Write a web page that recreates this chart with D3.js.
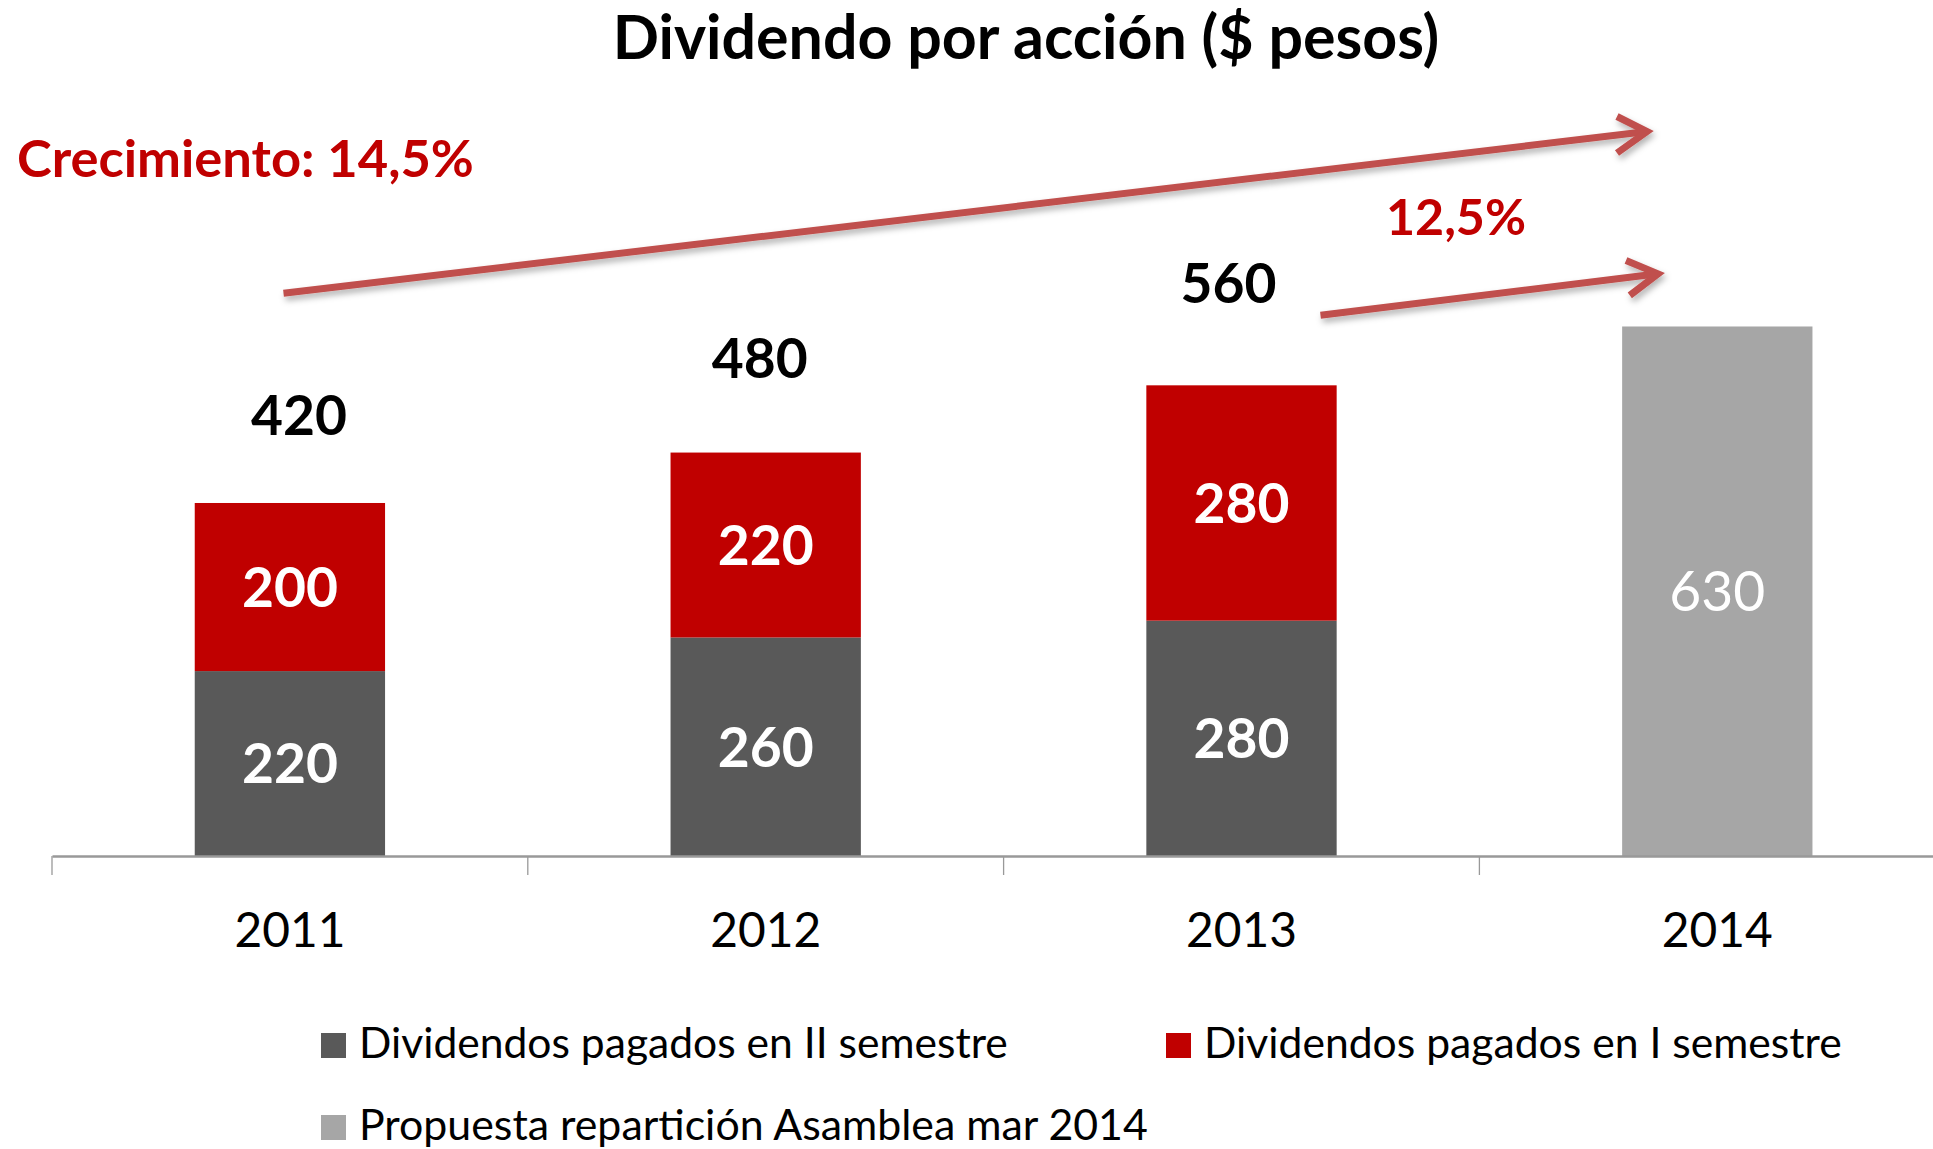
<!DOCTYPE html>
<html>
<head>
<meta charset="utf-8">
<script src="https://cdn.jsdelivr.net/npm/d3@7"></script>
<style>
  html, body { margin: 0; padding: 0; background: #fff; }
  svg { display: block; }
  text { font-family: Lato, "Open Sans", sans-serif; }
</style>
</head>
<body>
<svg id="chart" width="1933" height="1149"></svg>
<script>
// ---- data ----
const categories = ["2011", "2012", "2013", "2014"];
const seriesNames = [
  "Dividendos pagados en II semestre",
  "Dividendos pagados en I semestre",
  "Propuesta repartición Asamblea mar 2014"
];
const semestreII = [220, 260, 280, 0];
const semestreI  = [200, 220, 280, 0];
const propuesta  = [0, 0, 0, 630];
const titleText = "Dividendo por acción ($ pesos)";
const growthLabels = ["Crecimiento: 14,5%", "12,5%"];

// ---- layout / style ----
const colors = ["#595959", "#C00000", "#A6A6A6"];
const arrowColor = "#C0504D";
const axisY = 856;
const step = 475.8;
const x0 = 52;
const totalNudgeX = [9, -6, -13];
const totalNudgeY = [-68, -75, -82];

const svg = d3.select("#chart");

const defs = svg.append("defs");
const f = defs.append("filter").attr("id", "shadow")
  .attr("x", "-10%").attr("y", "-50%").attr("width", "120%").attr("height", "200%");
f.append("feDropShadow").attr("dx", 2).attr("dy", 4).attr("stdDeviation", 3)
  .attr("flood-color", "#000").attr("flood-opacity", 0.3);

function fit(sel, target) {
  const base = 40;
  sel.attr("font-size", base);
  const l = sel.node().getComputedTextLength();
  sel.attr("font-size", base * target / l);
  return sel;
}

// scales
const x = d3.scaleBand().domain(categories)
  .range([x0, x0 + step * categories.length])
  .paddingInner(0.6).paddingOuter(0.3);
const y = d3.scaleLinear().domain([0, 700]).range([axisY, axisY - 700 * 0.8405]);

// table
const table = categories.map((c, i) => ({
  cat: c, s0: semestreII[i], s1: semestreI[i], s2: propuesta[i]
}));
const keys = ["s0", "s1", "s2"];
const stacked = d3.stack().keys(keys)(table);

// bars
const gBars = svg.append("g");
stacked.forEach((layer, li) => {
  gBars.selectAll(null).data(layer.filter(d => d[1] - d[0] > 0)).enter()
    .append("rect")
    .attr("x", d => x(d.data.cat))
    .attr("width", x.bandwidth())
    .attr("y", d => y(d[1]))
    .attr("height", d => y(d[0]) - y(d[1]))
    .attr("fill", colors[li]);
});

// segment labels
const numSize = (() => {
  const t = svg.append("text").attr("font-weight", "bold").text("420");
  fit(t, 96);
  const s = +t.attr("font-size");
  t.remove();
  return s;
})();
stacked.forEach((layer, li) => {
  svg.append("g").selectAll("text").data(layer.filter(d => d[1] - d[0] > 0)).enter()
    .append("text")
    .attr("x", d => x(d.data.cat) + x.bandwidth() / 2)
    .attr("y", d => (y(d[0]) + y(d[1])) / 2)
    .attr("dy", "0.36em")
    .attr("text-anchor", "middle")
    .attr("fill", "#fff")
    .attr("font-weight", li === 2 ? "normal" : "bold")
    .attr("font-size", numSize)
    .text(d => d[1] - d[0]);
});

// total labels
const totals = table.map(d => ({ cat: d.cat, semi: d.s0 + d.s1 }));
svg.append("g").selectAll("text").data(totals.filter(d => d.semi > 0)).enter()
  .append("text")
  .attr("x", (d, i) => x(d.cat) + x.bandwidth() / 2 + totalNudgeX[i])
  .attr("y", (d, i) => y(d.semi) + totalNudgeY[i])
  .attr("text-anchor", "middle")
  .attr("font-weight", "bold")
  .attr("font-size", numSize)
  .attr("fill", "#000")
  .text(d => d.semi);

// x axis
const xAxis = d3.axisBottom(x).tickSize(0).tickSizeOuter(0).tickPadding(0);
const gx = svg.append("g").attr("transform", `translate(0,${axisY})`).call(xAxis);
gx.select(".domain").attr("stroke", "#999").attr("stroke-width", 2.5);
const yearSize = (() => {
  const t = svg.append("text").text("2011");
  fit(t, 111);
  const s = +t.attr("font-size");
  t.remove();
  return s;
})();
gx.selectAll(".tick text")
  .attr("font-family", "Lato, sans-serif")
  .attr("font-size", yearSize)
  .attr("fill", "#000")
  .attr("dy", 0)
  .attr("y", 946.7 - axisY);
// boundary tick marks
svg.append("g").selectAll("line").data(d3.range(categories.length)).enter()
  .append("line")
  .attr("x1", i => x.range()[0] + i * x.step())
  .attr("x2", i => x.range()[0] + i * x.step())
  .attr("y1", axisY)
  .attr("y2", axisY + 19)
  .attr("stroke", "#999")
  .attr("stroke-width", 1.3);

// title
const title = svg.append("text")
  .attr("x", 1026).attr("y", 59)
  .attr("text-anchor", "middle")
  .attr("font-weight", "bold")
  .attr("fill", "#000")
  .text(titleText);
fit(title, 827);

// growth annotations
const g1 = svg.append("text").attr("x", 17).attr("y", 176.5)
  .attr("font-weight", "bold").attr("fill", "#C00000").text(growthLabels[0]);
fit(g1, 457);
const g2 = svg.append("text").attr("x", 1386).attr("y", 235)
  .attr("font-weight", "bold").attr("fill", "#C00000").text(growthLabels[1]);
fit(g2, 140);

// arrows
const arrows = [
  { from: [283.5, 293.3], to: [1647, 131.5], a1: [1617, 116.5], a2: [1617, 153] },
  { from: [1320.5, 315.3], to: [1658, 273.8], a1: [1626, 260.4], a2: [1629.8, 295.4] }
];
const gArrows = svg.append("g").attr("filter", "url(#shadow)");
arrows.forEach(a => {
  gArrows.append("path")
    .attr("d", d3.line()([a.from, a.to]))
    .attr("stroke", arrowColor).attr("stroke-width", 7).attr("fill", "none");
  gArrows.append("path")
    .attr("d", d3.line()([a.a1, a.to, a.a2]))
    .attr("stroke", arrowColor).attr("stroke-width", 7).attr("fill", "none")
    .attr("stroke-linejoin", "miter").attr("stroke-linecap", "butt");
});

// legend
const legendPos = [[321, 1033], [1166, 1033], [321, 1115]];
const legendWidths = [649, 638, 789];
const gLeg = svg.append("g");
seriesNames.forEach((name, i) => {
  const [lx, ly] = legendPos[i];
  gLeg.append("rect").attr("x", lx).attr("y", ly).attr("width", 25).attr("height", 25)
    .attr("fill", colors[i]);
  const t = gLeg.append("text").attr("x", lx + 38).attr("y", ly + 25)
    .attr("fill", "#000").text(name);
  fit(t, legendWidths[i]);
});
</script>
</body>
</html>
